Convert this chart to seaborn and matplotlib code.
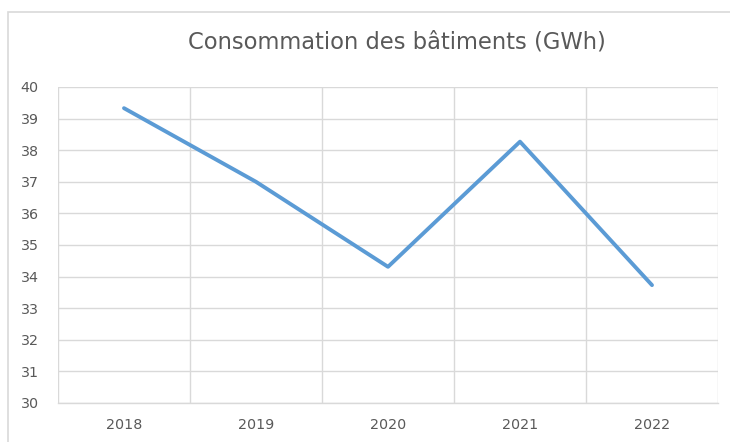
import matplotlib
matplotlib.use("Agg")
import matplotlib.pyplot as plt
import seaborn as sns
import pandas as pd
from matplotlib.patches import Rectangle

# données
annees = ["2018", "2019", "2020", "2021", "2022"]
conso = [39.33, 37.0, 34.31, 38.27, 33.73]

df = pd.DataFrame({"annee": annees, "conso": conso})

sns.set_theme(style="white")
plt.rcParams['font.family'] = ['DejaVu Sans']

fig = plt.figure(figsize=(7.3, 4.42), dpi=100)
ax = fig.add_axes([58 / 730, 1 - 403 / 442, 660 / 730, 316 / 442])

sns.lineplot(data=df, x="annee", y="conso", ax=ax, color="#5B9BD5",
             linewidth=2.8, sort=False)

ax.set_ylim(30, 40)
ax.set_yticks(range(30, 41))
ax.set_xlim(-0.5, len(annees) - 0.5)
ax.set_xticks(range(len(annees)))
ax.set_xticklabels(annees)
ax.set_xticks([i - 0.5 for i in range(len(annees) + 1)], minor=True)

ax.grid(axis="y", color="#D9D9D9", linewidth=1)
ax.grid(axis="x", which="minor", color="#D9D9D9", linewidth=1)
ax.grid(axis="x", which="major", visible=False)
ax.tick_params(axis="both", which="both", length=0, colors="#595959", labelsize=10.3)
ax.tick_params(axis="y", pad=14)
ax.tick_params(axis="x", pad=11)

for s in ["top", "right", "left"]:
    ax.spines[s].set_visible(False)
ax.spines["bottom"].set_color("#D9D9D9")
ax.spines["bottom"].set_linewidth(1)

ax.set_xlabel("")
ax.set_ylabel("")

fig.text(397 / 730, 1 - 42 / 442, "Consommation des bâtiments (GWh)",
         ha="center", va="center", fontsize=16.3, color="#595959")

# bordure de la zone du graphique (seuls les bords haut et gauche sont visibles)
fig.patches.append(Rectangle((8 / 730, -0.1), 1.0, 1.1 - 12 / 442,
                             transform=fig.transFigure, fill=False,
                             edgecolor="#D9D9D9", linewidth=1.2))

fig.savefig("out.png", dpi=100)
